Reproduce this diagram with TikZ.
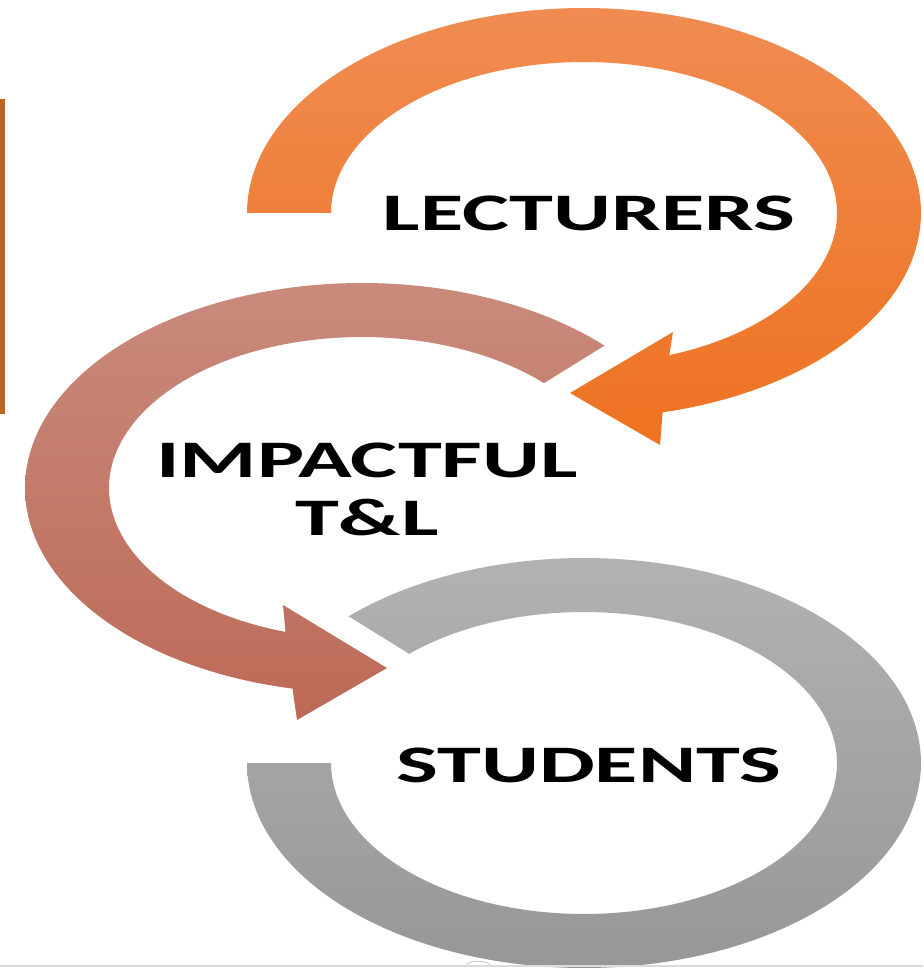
\documentclass[tikz,border=0pt]{standalone}
\usepackage{fontspec}
\setmainfont{Carlito}
\definecolor{orTop}{HTML}{F08C52}
\definecolor{orBot}{HTML}{EE7220}
\definecolor{pkTop}{HTML}{C98A7C}
\definecolor{pkBot}{HTML}{BD6A57}
\definecolor{gyTop}{HTML}{B2B2B2}
\definecolor{gyBot}{HTML}{979797}
\definecolor{leftc}{HTML}{B8652C}
\begin{document}
\begin{tikzpicture}[x=0.02cm,y=-0.02cm,
  lbl/.style={font=\fontsize{30}{33}\selectfont\bfseries, xscale=1.68, inner sep=0pt, text=black}]
\useasboundingbox (0,0) rectangle (923,969);
\fill[white] (0,0) rectangle (923,969);
% gray ring (STUDENTS)
\shade[top color=gyTop, bottom color=gyBot]
  plot[domain=180:-134.3, samples=160] ({584+337*cos(\x)},{763+205*sin(\x)})
  -- plot[domain=-133.7:180, samples=160] ({584+253*cos(\x)},{763+151*sin(\x)}) -- cycle;
% orange arrow (LECTURERS)
\shade[top color=orTop, bottom color=orBot]
  plot[domain=180:436.5, samples=160] ({584+337*cos(\x)},{213+205*sin(\x)})
  -- (660,445) -- (570,393) -- (673,332)
  -- plot[domain=430.3:180, samples=160] ({584+253*cos(\x)},{213+151*sin(\x)}) -- cycle;
% pink arrow (IMPACTFUL T&L)
\shade[top color=pkTop, bottom color=pkBot]
  plot[domain=-44:-258.1, samples=160] ({362+337*cos(\x)},{488+205*sin(\x)})
  -- (297,720) -- (387,668) -- (283,605)
  -- plot[domain=-252.4:-44, samples=160] ({362+253*cos(\x)},{488+151*sin(\x)}) -- cycle;
% left bar
\fill[leftc] (0,99) rectangle (5,414);
% bottom strip
\fill[black!14] (0,965) rectangle (923,967);
\draw[black!18, line width=0.6pt] (466,965) .. controls (468,960) and (488,960) .. (490,965);
% labels
\node[lbl] (lect) at (589,213) {LECTURERS};
\node[lbl, align=center] (impact) at (367,489) {IMPACTFUL\\T\&L};
\node[lbl] (stud) at (589,765) {STUDENTS};
\end{tikzpicture}
\end{document}
